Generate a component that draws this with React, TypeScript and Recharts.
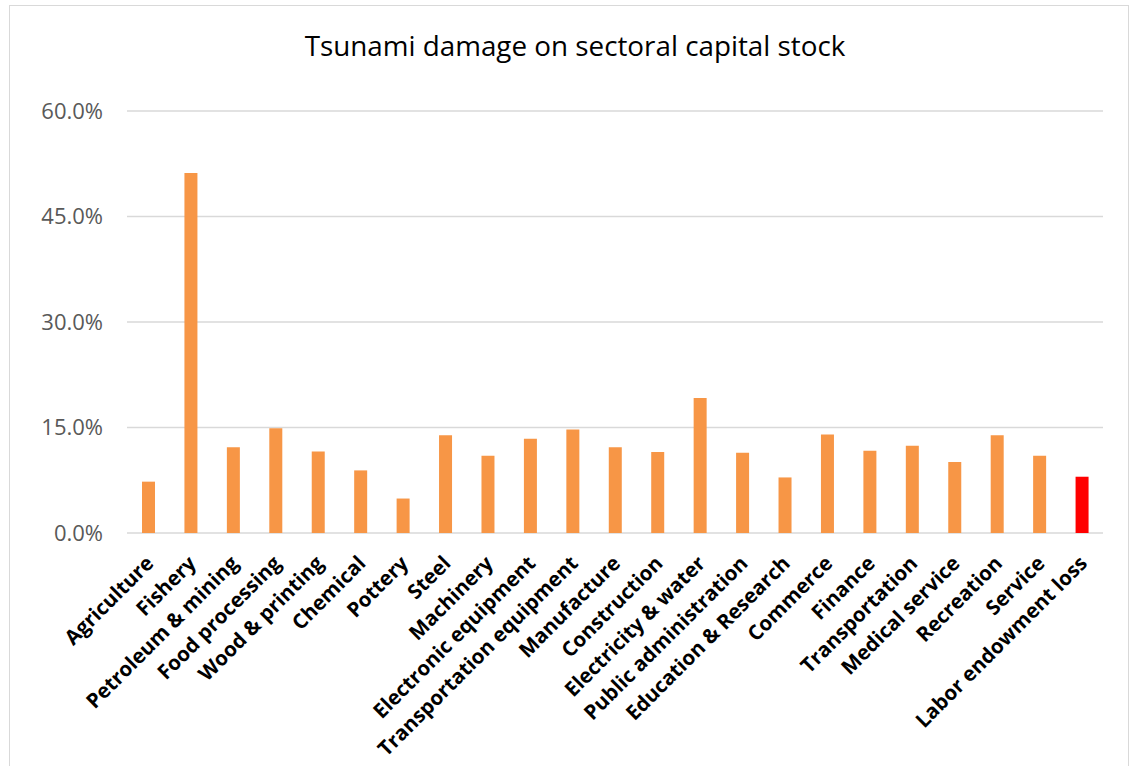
import React from 'react';
import { BarChart, Bar, Cell, XAxis, YAxis, CartesianGrid } from 'recharts';

// sectors, left to right
const sectors = [
  'Agriculture',
  'Fishery',
  'Petroleum & mining',
  'Food processing',
  'Wood & printing',
  'Chemical',
  'Pottery',
  'Steel',
  'Machinery',
  'Electronic equipment',
  'Transportation equipment',
  'Manufacture',
  'Construction',
  'Electricity & water',
  'Public administration',
  'Education & Research',
  'Commerce',
  'Finance',
  'Transportation',
  'Medical service',
  'Recreation',
  'Service',
  'Labor endowment loss',
];

// damage in percent of capital stock
const damage = [
  7.3, 51.2, 12.2, 14.9, 11.6, 8.9, 4.9, 13.9, 11.0, 13.4, 14.7, 12.2,
  11.5, 19.2, 11.4, 7.9, 14.0, 11.7, 12.4, 10.1, 13.9, 11.0, 8.0,
];

const yTicks = [0, 15, 30, 45, 60];
const highlighted = ['Labor endowment loss'];

const FONT = '"Open Sans", Calibri, sans-serif';

const data = sectors.map((sector, i) => ({ sector, damage: damage[i] }));

function SectorTick(props: any) {
  const { x, y, payload } = props;
  const ty = y + 26;
  return (
    <text
      x={x + 1}
      y={ty}
      transform={`rotate(-45 ${x + 1} ${ty})`}
      textAnchor="end"
      dominantBaseline="central"
      fontFamily={FONT}
      fontWeight="bold"
      fontSize={20.5}
      fill="#000"
    >
      {payload.value}
    </text>
  );
}

export default function App() {
  return (
    <div
      style={{
        position: 'absolute',
        left: 9,
        top: 5,
        width: 1118,
        height: 790,
        border: '1px solid #d9d9d9',
        background: '#fff',
      }}
    >
      <div
        style={{
          position: 'absolute',
          left: 0,
          top: 20,
          width: 1130,
          textAlign: 'center',
          fontFamily: FONT,
          fontSize: 27.8,
          color: '#000',
        }}
      >
        Tsunami damage on sectoral capital stock
      </div>
      <BarChart
        width={1118}
        height={780}
        data={data}
        margin={{ top: 105, right: 25, left: 0, bottom: 23 }}
      >
        <CartesianGrid vertical={false} stroke="#d9d9d9" strokeWidth={1.5} />
        <XAxis
          dataKey="sector"
          interval={0}
          tickLine={false}
          axisLine={false}
          tickSize={0}
          tickMargin={0}
          height={230}
          tick={<SectorTick />}
        />
        <YAxis
          domain={[0, 60]}
          ticks={yTicks}
          width={117}
          tickLine={false}
          axisLine={false}
          tickSize={0}
          tickMargin={24}
          tickFormatter={(v: number) => v.toFixed(1) + '%'}
          tick={{ fill: '#595959', fontSize: 22, fontFamily: FONT }}
        />
        <Bar dataKey="damage" barSize={13} isAnimationActive={false}>
          {data.map((d) => (
            <Cell
              key={d.sector}
              fill={highlighted.includes(d.sector) ? '#ff0000' : '#f79646'}
            />
          ))}
        </Bar>
      </BarChart>
    </div>
  );
}
